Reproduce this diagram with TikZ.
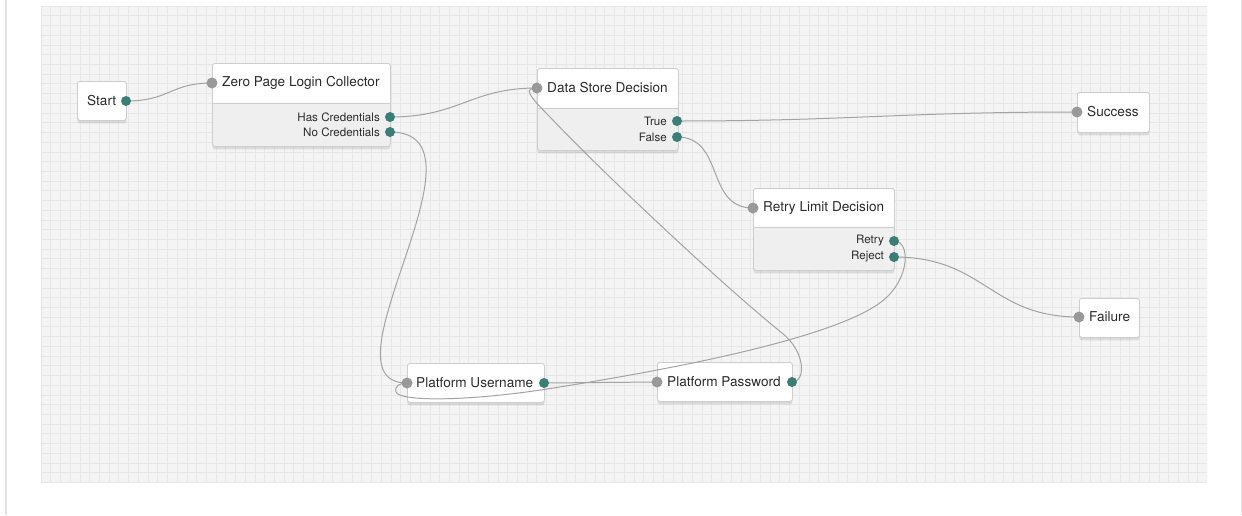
\documentclass[tikz,border=0pt]{standalone}
\usepackage{fontspec}
\setmainfont{TeX Gyre Heros}
\usetikzlibrary{shadows}

\definecolor{canvas}{HTML}{F4F4F4}
\definecolor{gridline}{HTML}{E7E7E7}
\definecolor{frameline}{HTML}{E2E2E2}
\definecolor{boxline}{HTML}{CDCDCD}
\definecolor{bodyfill}{HTML}{EFEFEF}
\definecolor{portgray}{HTML}{999999}
\definecolor{portteal}{HTML}{3A7E76}
\definecolor{linkgray}{HTML}{A3A3A3}
\definecolor{inktext}{HTML}{2B2B2B}

\tikzset{
  block/.style={draw=boxline, fill=white, rounded corners=2.5pt, anchor=north west,
    inner sep=0pt, line width=0.8pt,
    drop shadow={shadow xshift=0pt, shadow yshift=-3pt, opacity=0.10, fill=black}},
  split/.style={path picture={
      \fill[bodyfill] ([yshift=-#1]path picture bounding box.north west)
        rectangle (path picture bounding box.south east);
      \draw[boxline, line width=0.8pt] ([yshift=-#1]path picture bounding box.north west)
        -- ([yshift=-#1]path picture bounding box.north east);}},
  title/.style={anchor=west, inner sep=0pt, text=inktext, font=\fontsize{13.6}{16}\selectfont},
  portlabel/.style={anchor=east, inner sep=0pt, text=inktext, font=\fontsize{11.6}{14}\selectfont},
  inport/.style={circle, fill=portgray, minimum size=11pt, inner sep=0pt},
  outport/.style={circle, fill=portteal, minimum size=10pt, inner sep=0pt},
  link/.style={draw=linkgray, line width=1pt}
}

\begin{document}
\begin{tikzpicture}[x=1pt, y=-1pt]

  % canvas and grid
  \useasboundingbox (0,0) rectangle (1242,515);
  \fill[canvas] (41,6) rectangle (1207,483);
  \begin{scope}
    \clip (41,6) rectangle (1207,483);
    \foreach \gx in {0,...,120} {
      \draw[gridline, line width=0.6pt] (41+\gx*9.72,6) -- (41+\gx*9.72,483);
    }
    \foreach \gy in {0,...,49} {
      \draw[gridline, line width=0.6pt] (41,6+\gy*9.72) -- (1207,6+\gy*9.72);
    }
  \end{scope}
  \draw[frameline, line width=2pt] (6,0) -- (6,515);
  \draw[frameline, line width=1pt] (1241,0) -- (1241,515);

  % boxes
  \node[block, minimum width=49pt, minimum height=39pt] (start) at (77,81) {};
  \node[block, split=39.5pt, minimum width=178pt, minimum height=83pt] (zplc) at (212,63) {};
  \node[block, split=39.5pt, minimum width=141pt, minimum height=82pt] (dsd) at (537,68) {};
  \node[block, minimum width=72pt, minimum height=40pt] (success) at (1077,92) {};
  \node[block, split=39pt, minimum width=141pt, minimum height=82pt] (retry) at (753,188) {};
  \node[block, minimum width=60pt, minimum height=39pt] (failure) at (1079,298) {};
  \node[block, minimum width=137pt, minimum height=39pt] (user) at (407,363) {};
  \node[block, minimum width=135pt, minimum height=39pt] (pass) at (657,362) {};

  % titles
  \node[title] (start-t) at (87,101) {Start};
  \node[title] (zplc-t) at (222,83) {Zero Page Login Collector};
  \node[title] (dsd-t) at (547,88) {Data Store Decision};
  \node[title] (success-t) at (1087,112) {Success};
  \node[title] (retry-t) at (763,208) {Retry Limit Decision};
  \node[title] (failure-t) at (1089,317) {Failure};
  \node[title] (user-t) at (416,383) {Platform Username};
  \node[title] (pass-t) at (667,382) {Platform Password};

  % port labels
  \node[portlabel] (zplc-has-t) at (380,117) {Has Credentials};
  \node[portlabel] (zplc-no-t) at (380,132) {No Credentials};
  \node[portlabel] (dsd-true-t) at (667,121) {True};
  \node[portlabel] (dsd-false-t) at (667,137) {False};
  \node[portlabel] (retry-retry-t) at (884,241) {Retry};
  \node[portlabel] (retry-reject-t) at (884,257) {Reject};

  % port positions
  \coordinate (start-o) at (126,101);
  \coordinate (zplc-i) at (212,83);
  \coordinate (zplc-h) at (390,117);
  \coordinate (zplc-n) at (390,132);
  \coordinate (dsd-i) at (537,88);
  \coordinate (dsd-t) at (677,121);
  \coordinate (dsd-f) at (677,137);
  \coordinate (success-i) at (1077,112);
  \coordinate (retry-i) at (753,208);
  \coordinate (retry-r) at (894,241);
  \coordinate (retry-x) at (894,257);
  \coordinate (failure-i) at (1079,317);
  \coordinate (user-i) at (407,383);
  \coordinate (user-o) at (544,383);
  \coordinate (pass-i) at (657,382);
  \coordinate (pass-o) at (792,382);

  % connectors
  \path[link] (start-o) .. controls (170,101) and (170,83) .. (zplc-i);
  \path[link] (zplc-h) .. controls (460,117) and (470,88) .. (dsd-i);
  \path[link] (zplc-n) .. controls (500,132) and (315,383) .. (user-i);
  \path[link] (dsd-t) .. controls (850,121) and (900,112) .. (success-i);
  \path[link] (dsd-f) .. controls (725,137) and (705,208) .. (retry-i);
  \path[link] (retry-x) .. controls (985,257) and (990,317) .. (failure-i);
  \path[link] (user-o) .. controls (600,383) and (600,382) .. (pass-i);
  \path[link] (retry-r) .. controls (910,241) and (910,275) .. (887,297)
    .. controls (850,333) and (700,365) .. (547,389)
    .. controls (470,401) and (400,402) .. (396,392)
    .. controls (394,386) and (400,383) .. (user-i);
  \path[link] (pass-o) .. controls (806,382) and (806,352) .. (782,333)
    .. controls (720,283) and (600,170) .. (550,117)
    .. controls (527,94) and (524,88) .. (dsd-i);

  % ports
  \node[outport] (start-out) at (start-o) {};
  \node[inport] (zplc-in) at (zplc-i) {};
  \node[outport] (zplc-has) at (zplc-h) {};
  \node[outport] (zplc-no) at (zplc-n) {};
  \node[inport] (dsd-in) at (dsd-i) {};
  \node[outport] (dsd-true) at (dsd-t) {};
  \node[outport] (dsd-false) at (dsd-f) {};
  \node[inport] (success-in) at (success-i) {};
  \node[inport] (retry-in) at (retry-i) {};
  \node[outport] (retry-retry) at (retry-r) {};
  \node[outport] (retry-reject) at (retry-x) {};
  \node[inport] (failure-in) at (failure-i) {};
  \node[inport] (user-in) at (user-i) {};
  \node[outport] (user-out) at (user-o) {};
  \node[inport] (pass-in) at (pass-i) {};
  \node[outport] (pass-out) at (pass-o) {};

\end{tikzpicture}
\end{document}
